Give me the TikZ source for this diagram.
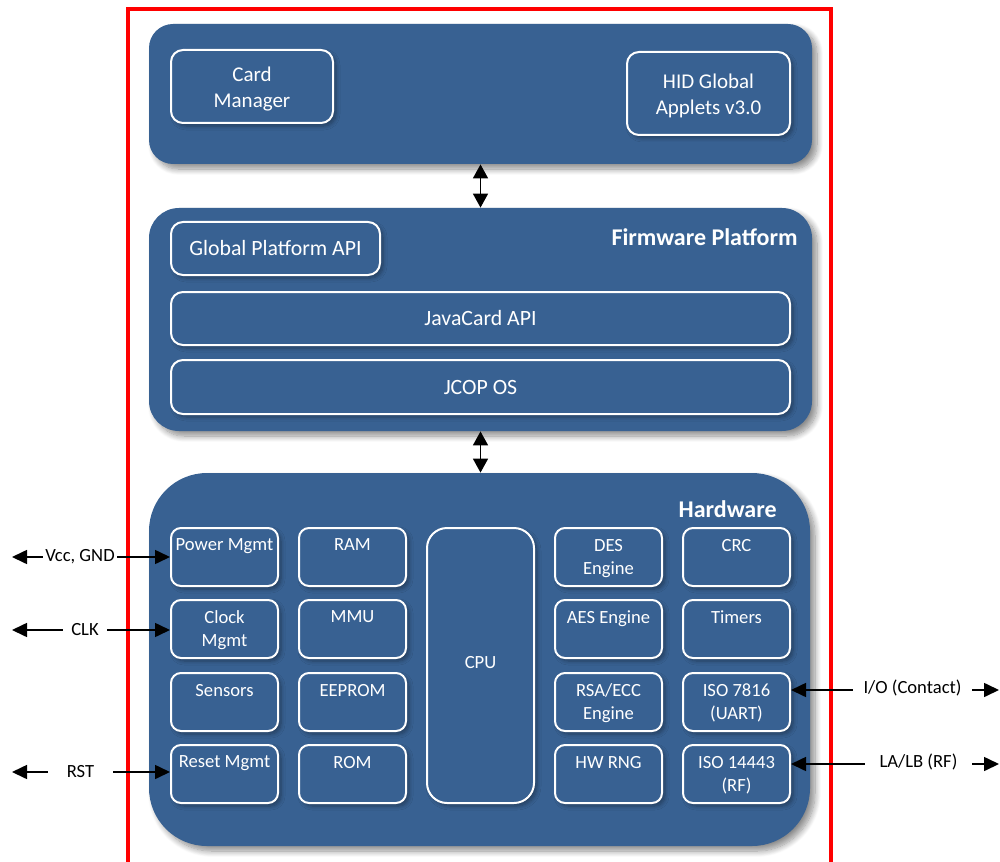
\documentclass[tikz,border=0pt]{standalone}
\usepackage{fontspec}
\setmainfont{Carlito}
\usetikzlibrary{arrows.meta,shadows.blur}
\definecolor{layerblue}{RGB}{56,97,146}
\definecolor{framered}{RGB}{255,0,0}

\begin{document}
\begin{tikzpicture}[x=0.5pt,y=-0.5pt,
  layer/.style={fill=layerblue, draw=none, inner sep=0pt,
    blur shadow={shadow xshift=2.5pt, shadow yshift=-2.5pt, shadow blur steps=10,
      shadow blur radius=3pt, shadow opacity=45}},
  sub/.style={fill=layerblue, draw=white, line width=1pt, rounded corners=6pt,
    inner sep=0pt, text=white, align=center,
    blur shadow={shadow xshift=1.5pt, shadow yshift=-1.5pt, shadow blur steps=6,
      shadow blur radius=2pt, shadow opacity=35}},
  apptxt/.style={text=white, align=center, font=\fontsize{10.5}{13}\selectfont},
  fwtxt/.style={font=\fontsize{10.9}{13}\selectfont},
  hw/.style={sub, minimum width=53.5pt, minimum height=29pt, rounded corners=5pt},
  hwt/.style={text=white, align=center, anchor=north, inner sep=0pt,
    font=\fontsize{9.3}{11.5}\selectfont},
  title/.style={text=white, anchor=east, inner sep=0pt,
    font=\fontsize{12}{14}\selectfont\bfseries},
  link/.style={{Triangle[length=7pt,width=7.5pt]}-{Triangle[length=7pt,width=7.5pt]}, line width=0.8pt},
  io/.style={{Triangle[length=7.5pt,width=7pt]}-{Triangle[length=7.5pt,width=7pt]}, line width=0.8pt},
  ext/.style={fill=white, inner sep=0pt, minimum height=11pt, font=\fontsize{9.3}{11}\selectfont}]

\useasboundingbox (0,0) rectangle (1000,861);
\clip (0,0) rectangle (1000,861);

% red outline of the card
\draw[framered, line width=1.6pt] (128,900) -- (128,9) -- (831,9) -- (831,900);

% ---------- application layer ----------
\node[layer, rounded corners=12pt, minimum width=331.5pt, minimum height=70pt] (app) at (480.5,94) {};
\node[sub, minimum width=81pt, minimum height=36.5pt] (cm) at (252,86.5) {};
\node[apptxt] (cmT) at ([yshift=-1.5pt]cm.center) {Card\\Manager};
\node[sub, minimum width=81.5pt, minimum height=41.5pt] (hid) at (708.5,93.5) {};
\node[apptxt] (hidT) at ([yshift=-1pt]hid.center) {HID Global\\Applets v3.0};

% ---------- firmware layer ----------
\node[layer, rounded corners=15pt, minimum width=331.5pt, minimum height=111.5pt] (fw) at (480.5,319.5) {};
\node[title] (fwT) at (798,237) {Firmware Platform};
\node[sub, fwtxt, minimum width=104.5pt, minimum height=26.5pt] (gp) at (275.5,248.5) {Global Platform API};
\node[sub, fwtxt, minimum width=309.5pt, minimum height=26.5pt] (jc) at (480.5,318.5) {JavaCard API};
\node[sub, fwtxt, minimum width=309.5pt, minimum height=27pt] (os) at (480.5,387) {JCOP OS};

% ---------- hardware layer ----------
\node[layer, rounded corners=29pt, minimum width=330.5pt, minimum height=186.5pt] (hwl) at (479.5,659.5) {};
\node[title] (hwT) at (777,509) {Hardware};

\node[hw] (pwr) at (224.5,557) {};
\node[hw] (ram) at (352.5,557) {};
\node[hw] (des) at (608.5,557) {};
\node[hw] (crc) at (736.5,557) {};
\node[hw] (clk) at (224.5,629) {};
\node[hw] (mmu) at (352.5,629) {};
\node[hw] (aes) at (608.5,629) {};
\node[hw] (tmr) at (736.5,629) {};
\node[hw] (sens) at (224.5,702) {};
\node[hw] (eep) at (352.5,702) {};
\node[hw] (rsa) at (608.5,702) {};
\node[hw] (iso7816) at (736.5,702) {};
\node[hw] (rst) at (224.5,774) {};
\node[hw] (rom) at (352.5,774) {};
\node[hw] (rng) at (608.5,774) {};
\node[hw] (iso14443) at (736.5,774) {};
\node[hw, minimum height=137.5pt, rounded corners=10pt] (cpu) at (480.5,665.5) {};
\node[hwt, anchor=center] (cpuT) at ([yshift=1.5pt]cpu.center) {CPU};

\node[hwt] (pwrT) at ([yshift=-5.8pt]pwr.north) {Power Mgmt};
\node[hwt] (ramT) at ([yshift=-5.8pt]ram.north) {RAM};
\node[hwt] (desT) at ([yshift=-5.8pt]des.north) {DES\\Engine};
\node[hwt] (crcT) at ([yshift=-5.8pt]crc.north) {CRC};
\node[hwt] (clkT) at ([yshift=-5.8pt]clk.north) {Clock\\Mgmt};
\node[hwt] (mmuT) at ([yshift=-5.8pt]mmu.north) {MMU};
\node[hwt] (aesT) at ([yshift=-5.8pt]aes.north) {AES Engine};
\node[hwt] (tmrT) at ([yshift=-5.8pt]tmr.north) {Timers};
\node[hwt] (sensT) at ([yshift=-5.8pt]sens.north) {Sensors};
\node[hwt] (eepT) at ([yshift=-5.8pt]eep.north) {EEPROM};
\node[hwt] (rsaT) at ([yshift=-5.8pt]rsa.north) {RSA/ECC\\Engine};
\node[hwt] (iso7816T) at ([yshift=-5.8pt]iso7816.north) {ISO 7816\\(UART)};
\node[hwt] (rstT) at ([yshift=-5.8pt]rst.north) {Reset Mgmt};
\node[hwt] (romT) at ([yshift=-5.8pt]rom.north) {ROM};
\node[hwt] (rngT) at ([yshift=-5.8pt]rng.north) {HW RNG};
\node[hwt] (iso14443T) at ([yshift=-5.8pt]iso14443.north) {ISO 14443\\(RF)};

% ---------- links between layers ----------
\draw[link] (app.south) -- (fw.north);
\draw[link] (fw.south) -- (fw.south |- hwl.north);

% ---------- external signals ----------
\coordinate (vccEnd) at (12,557);
\coordinate (clkEnd) at (12,630);
\coordinate (rstEnd) at (12,772);
\coordinate (ioEnd) at (999,690);
\coordinate (rfEnd) at (999,764);

\draw[io] (vccEnd) -- (vccEnd -| pwr.west);
\draw[io] (clkEnd) -- (clkEnd -| clk.west);
\draw[io] (rstEnd) -- (rstEnd -| rst.west);
\draw[io] (ioEnd -| iso7816.east) -- (ioEnd);
\draw[io] (rfEnd -| iso14443.east) -- (rfEnd);

\node[ext, minimum width=37pt] (vccT) at (80,557) {Vcc, GND};
\node[ext, minimum width=22pt] (clkT2) at (85,630) {CLK};
\node[ext, minimum width=32.5pt] (rstT2) at (80.5,772) {RST};
\node[ext, minimum width=59.5pt] (ioT) at (912.5,688) {I/O (Contact)};
\node[ext, minimum width=53.5pt] (rfT) at (918.5,762) {LA/LB (RF)};

\end{tikzpicture}
\end{document}
